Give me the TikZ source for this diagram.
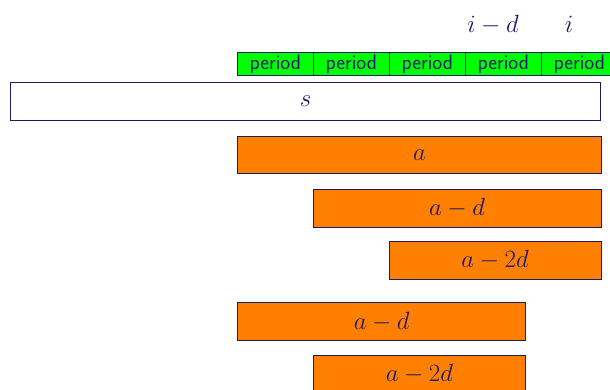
\documentclass[tikz,border=0pt]{standalone}
\usetikzlibrary{positioning}

\definecolor{ink}{RGB}{25,25,110}
\definecolor{segfill}{RGB}{255,128,0}
\definecolor{perfill}{RGB}{0,255,0}

\begin{document}
\begin{tikzpicture}[
  x=1pt,y=-1pt,
  per/.style={draw=ink,fill=perfill,text=ink,line width=0.8pt,inner sep=0pt,
    minimum width=75.2pt,minimum height=23.5pt,font=\sffamily\fontsize{21}{24}\selectfont},
  seg/.style={draw=ink,fill=segfill,text=ink,line width=0.8pt,inner sep=0pt,
    minimum height=37.8pt,anchor=north west,font=\fontsize{28}{30}\selectfont},
  strip/.style={seg,fill=white},
  lbl/.style={text=ink,inner sep=0pt,anchor=base,font=\fontsize{27}{30}\selectfont}
]
\useasboundingbox (0,0) rectangle (610,390);

% ---- index labels ----
\node[lbl] (lid) at (493,33) {$i-d$};
\node[lbl] (li) at (569,33) {$i$};

% ---- periods ----
\node[per,anchor=north west] (p1) at (237.3,52) {period};
\foreach \k [remember=\k as \j (initially 1)] in {2,...,5}
  \node[per,right=0pt of p\j] (p\k) {period};

% ---- the string ----
\node[strip,minimum width=590pt] (s) at (10.3,82.3) {$s$};

% ---- shifted copies ----
\node[seg,minimum width=363.4pt] (a0) at (237.3,135.7) {$a$};
\node[seg,minimum width=288pt] (a1) at (312.7,189) {$a-d$};
\node[seg,minimum width=212pt] (a2) at (388.7,241) {$a-2d$};

\node[seg,minimum width=288pt] (b1) at (237.3,302.3) {$a-d$};
\node[seg,minimum width=212.6pt] (b2) at (312.7,355) {$a-2d$};

\end{tikzpicture}
\end{document}
